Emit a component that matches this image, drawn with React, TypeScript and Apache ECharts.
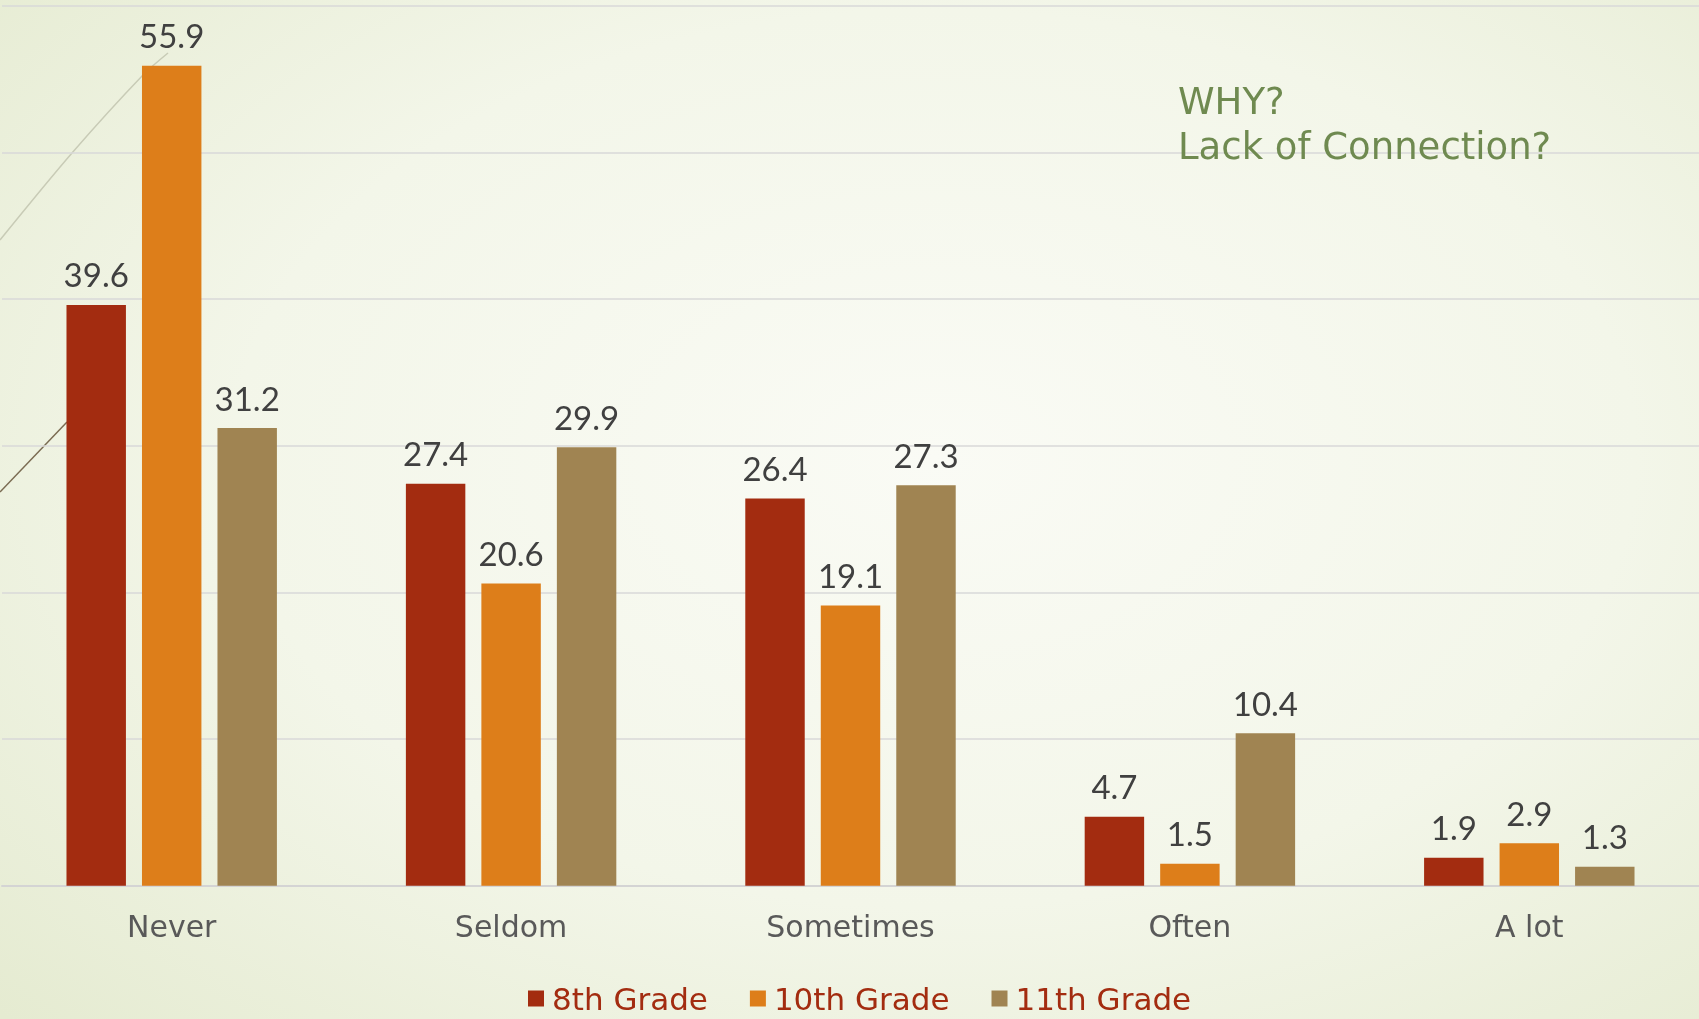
import React, { useEffect, useRef } from "react";
import * as echarts from "echarts";

const categories = ["Never", "Seldom", "Sometimes", "Often", "A lot"];
const grade8 = [39.6, 27.4, 26.4, 4.7, 1.9];
const grade10 = [55.9, 20.6, 19.1, 1.5, 2.9];
const grade11 = [31.2, 29.9, 27.3, 10.4, 1.3];
const seriesNames = ["8th Grade", "10th Grade", "11th Grade"];
const seriesColors = ["#A32C10", "#DD7E1A", "#A08452"];
const annotation = "WHY?\nLack of Connection?";

export default function App() {
  const ref = useRef<HTMLDivElement>(null);
  useEffect(() => {
    if (!ref.current) return;
    const chart = echarts.init(ref.current, null, { renderer: "svg" });
    const dataSets = [grade8, grade10, grade11];
    chart.setOption({
      animation: false,
      backgroundColor: "transparent",
      grid: { left: 2, right: 0, top: 5.7, bottom: 133.3, containLabel: false },
      legend: {
        data: seriesNames,
        left: 523,
        top: 978,
        icon: "rect",
        itemWidth: 16,
        itemHeight: 16,
        itemGap: 42,
        textStyle: {
          fontFamily: "DejaVu Sans",
          fontSize: 31,
          lineHeight: 30,
          color: "#A32C10",
          padding: [0, 0, 0, 3],
        },
      },
      xAxis: {
        type: "category",
        data: categories,
        axisTick: { show: false },
        axisLine: { lineStyle: { color: "#D4D4D4", width: 2 } },
        axisLabel: {
          fontFamily: "DejaVu Sans",
          fontSize: 30,
          color: "#595959",
          margin: 26,
        },
      },
      yAxis: {
        type: "value",
        min: 0,
        max: 60,
        interval: 10,
        axisLabel: { show: false },
        axisLine: { show: false },
        axisTick: { show: false },
        splitLine: { lineStyle: { color: "#D9D9D9", width: 1.5 } },
      },
      series: dataSets.map((d, i) => ({
        name: seriesNames[i],
        type: "bar",
        data: d,
        barGap: "27%",
        barCategoryGap: "38%",
        z: 3,
        itemStyle: { color: seriesColors[i] },
        label: {
          show: true,
          position: "top",
          distance: 14,
          fontFamily: "Lato",
          fontSize: 33,
          color: "#404040",
        },
      })),
      graphic: [
        {
          type: "polyline",
          z: 0,
          shape: { points: [[0, 240], [72, 153], [143, 75], [168, 53]], smooth: 0.3 },
          style: { stroke: "#C8CBB6", lineWidth: 1.5, fill: null },
        },
        {
          type: "line",
          z: 0,
          shape: { x1: 0, y1: 492, x2: 67, y2: 422 },
          style: { stroke: "#7A6B52", lineWidth: 1.5 },
        },
        {
          type: "text",
          z: 100,
          x: 1178,
          y: 78.5,
          style: {
            text: annotation,
            fontFamily: "DejaVu Sans",
            fontSize: 37,
            lineHeight: 45,
            fill: "#6F8A50",
            verticalAlign: "top",
            align: "left",
          },
        },
      ],
    });
    return () => chart.dispose();
  }, []);
  return (
    <div
      style={{
        position: "fixed",
        left: 0,
        top: 0,
        width: 1699,
        height: 1019,
        background:
          "radial-gradient(ellipse 75% 80% at 55% 45%, #FAFBF5 0%, #F3F6E9 55%, #E5EBD1 100%)",
      }}
    >
      <div ref={ref} style={{ width: 1699, height: 1019 }} />
    </div>
  );
}
